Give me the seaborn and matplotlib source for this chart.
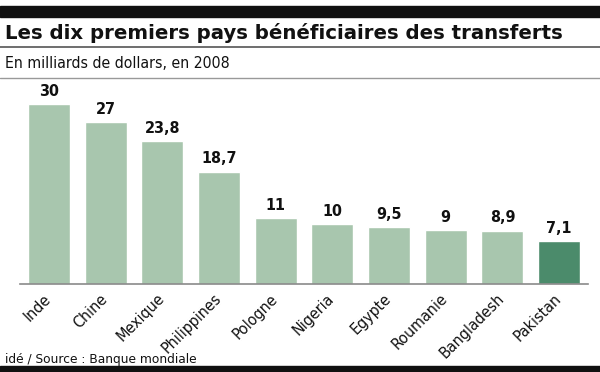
import matplotlib
matplotlib.use("Agg")
import matplotlib.pyplot as plt
import matplotlib.transforms as mtrans
import seaborn as sns
import pandas as pd

countries = ["Inde", "Chine", "Mexique", "Philippines", "Pologne", "Nigeria",
             "Egypte", "Roumanie", "Bangladesh", "Pakistan"]
values = [30, 27, 23.8, 18.7, 11, 10, 9.5, 9, 8.9, 7.1]
value_labels = ["30", "27", "23,8", "18,7", "11", "10", "9,5", "9", "8,9", "7,1"]
title = "Les dix premiers pays bénéficiaires des transferts"
subtitle = "En milliards de dollars, en 2008"
source = "idé / Source : Banque mondiale"

light = "#a8c6ae"
dark = "#4b8b6b"
colors = [light] * 9 + [dark]

sns.set_theme(style="white")
plt.rcParams["font.family"] = ["DejaVu Sans"]
plt.rcParams["font.stretch"] = "condensed"

df = pd.DataFrame({"pays": countries, "val": values})

fig = plt.figure(figsize=(6, 3.72), dpi=100)
ax = fig.add_axes([20 / 600, 1 - 284 / 372, 568 / 600, 204 / 372])
sns.barplot(data=df, x="pays", y="val", hue="pays", palette=colors,
            legend=False, width=0.74, ax=ax, saturation=1)
ax.set_xlim(-0.51, 9.51)
ax.set_ylim(0, 34)
ax.set_xlabel("")
ax.set_ylabel("")
ax.set_yticks([])
for s in ["top", "right", "left"]:
    ax.spines[s].set_visible(False)
ax.spines["bottom"].set_color("#8a8a8a")
ax.spines["bottom"].set_linewidth(1.2)
ax.tick_params(axis="x", length=0, pad=5)
ax.set_xticks(range(len(countries)))
ax.set_xticklabels(countries, rotation=45, ha="right", rotation_mode="anchor",
                   fontsize=11.5, color="#111111", fontstretch="condensed")
shift = mtrans.ScaledTranslation(-4 / 72, 0, fig.dpi_scale_trans)
for lab in ax.get_xticklabels():
    lab.set_transform(lab.get_transform() + shift)
for i, (v, lab) in enumerate(zip(values, value_labels)):
    ax.text(i, v + 0.9, lab, ha="center", va="bottom", fontsize=11.5,
            fontweight="bold", color="#111111", fontstretch="condensed")

# decorations
fig.patches.append(plt.Rectangle((0, 1 - 17 / 372), 1, 11 / 372,
                                 transform=fig.transFigure, color="#111111"))
fig.patches.append(plt.Rectangle((0, 0), 1, 6 / 372,
                                 transform=fig.transFigure, color="#111111"))
fig.add_artist(plt.Line2D([0, 1], [1 - 47 / 372] * 2, color="#555555", lw=1.2))
fig.add_artist(plt.Line2D([0, 1], [1 - 78 / 372] * 2, color="#999999", lw=1))
fig.text(5 / 600, 1 - 33 / 372, title, fontsize=14.2, fontweight="bold",
         va="center", ha="left", fontstretch="normal", color="#111111")
fig.text(5 / 600, 1 - 63 / 372, subtitle, fontsize=11.3, va="center", ha="left",
         fontstretch="condensed", color="#111111")
fig.text(5 / 600, 1 - 360 / 372, source, fontsize=8.8, va="center", ha="left",
         fontstretch="normal", color="#111111")

fig.savefig("out.png", dpi=100)
